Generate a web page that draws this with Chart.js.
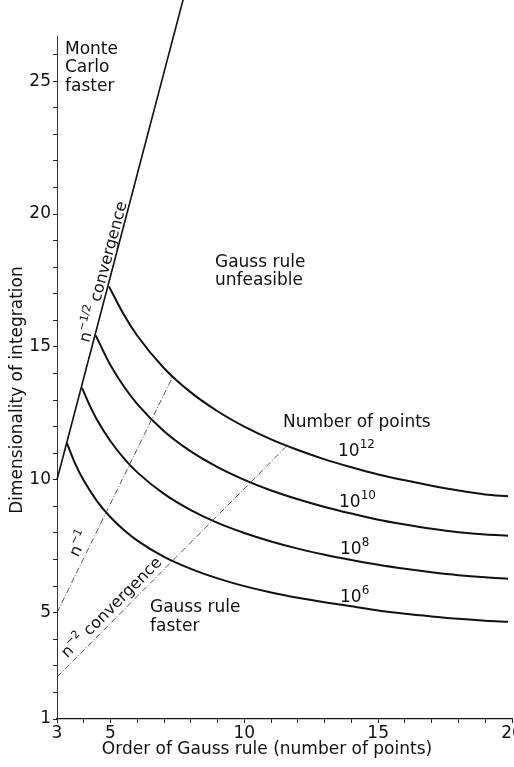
<!DOCTYPE html>
<html><head><meta charset="utf-8">
<script src="https://cdn.jsdelivr.net/npm/chart.js@4/dist/chart.umd.min.js"></script>
<style>
html,body{margin:0;padding:0;background:#fff;overflow:hidden;width:514px;height:767px}
#wrap{width:530px;height:767px;position:relative}
canvas{display:block}
</style>
</head><body><div id="wrap"><canvas id="c" width="530" height="767"></canvas></div>
<script>
// ---- axis ticks ----
const xTicks = [3,4,5,6,7,8,9,10,11,12,13,14,15,16,17,18,19,20];
const xTickLabels = [3,5,10,15,20];
const yTicks = [1,2,3,4,5,6,7,8,9,10,11,12,13,14,15,16,17,18,19,20,21,22,23,24,25,26];
const yTickLabels = [1,5,10,15,20,25];

// ---- boundary lines ----
const mcX = [3, 7.72];          // n^-1/2 (Monte Carlo) boundary
const mcY = [10, 28.1];
const n1X = [3, 7.32];          // n^-1
const n1Y = [5, 13.88];
const n2X = [3, 11.58];         // n^-2
const n2Y = [2.58, 11.27];

// ---- number-of-points curves ----
const x12 = [4.94,5.5,6,7,8,9,10,11,12,13,14,15,16,17,18,19,19.85];
const y12 = [17.28,16.21,15.42,14.2,13.29,12.58,12.0,11.52,11.12,10.77,10.47,10.2,9.98,9.78,9.6,9.45,9.38];
const x10 = [4.45,4.75,5,5.5,6,7,8,9,10,11,12,13,14,15,16,17,18,19,19.85];
const y10 = [15.43,14.8,14.31,13.51,12.85,11.83,11.07,10.48,10.0,9.6,9.27,8.98,8.73,8.5,8.32,8.16,8.03,7.94,7.9];
const x8 = [3.93,4.2,4.5,5,5.5,6,7,8,9,10,11,12,13,14,15,16,17,18,19,19.85];
const y8 = [13.47,12.85,12.25,11.45,10.81,10.28,9.47,8.86,8.38,8.0,7.68,7.41,7.18,6.98,6.8,6.65,6.52,6.41,6.33,6.28];
const x6 = [3.37,3.7,4,4.5,5,5.5,6,7,8,9,10,11,12,13,14,15,16,17,18,19,19.85];
const y6 = [11.38,10.56,9.97,9.19,8.59,8.11,7.71,7.1,6.65,6.29,6.0,5.76,5.56,5.39,5.24,5.08,4.96,4.86,4.77,4.7,4.66];

const FONT = '"DejaVu Sans", sans-serif';
const pts = (xs, ys) => xs.map((x, i) => ({x, y: ys[i]}));

function curve(xs, ys) {
  return {data: pts(xs, ys), borderColor: '#111', borderWidth: 2, pointRadius: 0,
          tension: 0.4, cubicInterpolationMode: 'monotone', fill: false};
}
function guide(xs, ys, w, dash, color) {
  return {data: pts(xs, ys), borderColor: color, borderWidth: w, borderDash: dash,
          pointRadius: 0, tension: 0, fill: false, clip: false};
}

// rich text: segs = [[text, isSup], ...]
function drawRich(ctx, segs, cx, cy, angleDeg, align, size) {
  const sz = size || 17;
  const main = sz + 'px ' + FONT, sup = Math.round(sz * 0.7) + 'px ' + FONT;
  let total = 0;
  segs.forEach(s => { ctx.font = s[1] ? sup : main; total += ctx.measureText(s[0]).width; });
  ctx.save();
  ctx.translate(cx, cy);
  ctx.rotate(angleDeg * Math.PI / 180);
  ctx.textBaseline = 'middle';
  ctx.textAlign = 'left';
  ctx.fillStyle = '#111';
  let x = align === 'left' ? 0 : -total / 2;
  segs.forEach(s => {
    ctx.font = s[1] ? sup : main;
    ctx.fillText(s[0], x, s[1] ? -sz * 0.4 : 0);
    x += ctx.measureText(s[0]).width;
  });
  ctx.restore();
}

const textPlugin = {
  id: 'texts',
  afterDatasetsDraw(chart) {
    const ctx = chart.ctx;
    const L = (t, x, y) => drawRich(ctx, [[t, false]], x, y, 0, 'left');
    L('Monte', 65, 50); L('Carlo', 65, 68); L('faster', 65, 87);
    L('Gauss rule', 215, 263); L('unfeasible', 215, 281);
    L('Number of points', 283, 423);
    drawRich(ctx, [['10', false], ['12', true]], 338, 452, 0, 'left');
    drawRich(ctx, [['10', false], ['10', true]], 339, 503, 0, 'left');
    drawRich(ctx, [['10', false], ['8', true]], 340, 550, 0, 'left');
    drawRich(ctx, [['10', false], ['6', true]], 340, 598, 0, 'left');
    L('Gauss rule', 150, 608); L('faster', 150, 627);
    drawRich(ctx, [['n', false], ['\u22121/2', true], [' convergence', false]], 104, 272, -74.9, 'center', 16);
    drawRich(ctx, [['n', false], ['\u22121', true]], 80, 544, -63.8, 'center', 16);
    drawRich(ctx, [['n', false], ['\u22122', true], [' convergence', false]], 112, 608, -45, 'center', 16);
    drawRich(ctx, [['Dimensionality of integration', false]], 18, 390, -90, 'center');
    drawRich(ctx, [['Order of Gauss rule (number of points)', false]], 267, 750, 0, 'center');
  }
};

new Chart(document.getElementById('c'), {
  type: 'line',
  data: {datasets: [
    guide(mcX, mcY, 1.6, [], '#111'),
    guide(n1X, n1Y, 0.9, [6, 2, 1, 2], '#444'),
    guide(n2X, n2Y, 0.9, [6, 2, 1, 2], '#444'),
    curve(x12, y12), curve(x10, y10), curve(x8, y8), curve(x6, y6)
  ]},
  options: {
    responsive: false, animation: false, devicePixelRatio: 1,
    layout: {padding: {left: 0, right: 18, top: 36, bottom: 0}},
    plugins: {legend: {display: false}, tooltip: {enabled: false}},
    scales: {
      x: {type: 'linear', min: 3, max: 20,
          afterBuildTicks: s => { s.ticks = xTicks.map(v => ({value: v})); },
          afterFit: s => { s.height = 48; },
          ticks: {autoSkip: false, maxRotation: 0, padding: 0, color: '#111',
                  font: {family: FONT, size: 17},
                  callback: v => xTickLabels.includes(v) ? String(v) : ''},
          grid: {drawOnChartArea: false, drawTicks: true, tickLength: 4, color: '#222'},
          border: {color: '#111', width: 1.3}},
      y: {type: 'linear', min: 1, max: 26.7,
          afterBuildTicks: s => { s.ticks = yTicks.map(v => ({value: v})); },
          afterFit: s => { s.width = 57; },
          ticks: {autoSkip: false, padding: 2, color: '#111',
                  font: {family: FONT, size: 17},
                  callback: v => yTickLabels.includes(v) ? String(v) : ''},
          grid: {drawOnChartArea: false, drawTicks: true, tickLength: 4, color: '#222'},
          border: {color: '#333', width: 1}}
    }
  },
  plugins: [textPlugin]
});
</script>
</body></html>
